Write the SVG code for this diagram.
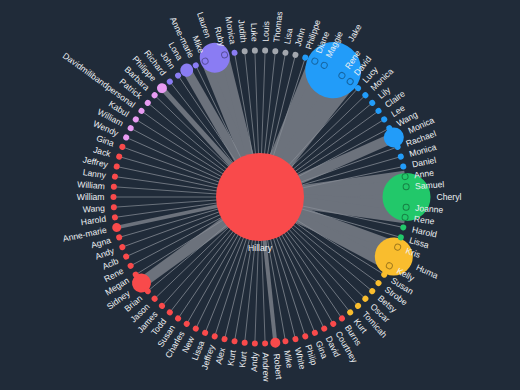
<svg xmlns="http://www.w3.org/2000/svg" width="520" height="390" viewBox="0 0 520 390">
<style>
.lk{stroke:#878d96;stroke-width:0.7}
.lt{stroke:#6c727c}
.gy{fill:#a3a7ae}.bl{fill:#229cf9}.gn{fill:#22c86a}.ye{fill:#f9bd2e}.rd{fill:#f94a4b}.pk{fill:#e89cf2}.pu{fill:#8a7cf3}
.ring{stroke:rgba(0,0,0,0.35);stroke-width:1}
text{font-family:"Liberation Sans",Arial,sans-serif;font-size:8.6px;fill:#eef0f3;dominant-baseline:central}
.r{text-anchor:start}.l{text-anchor:end}.c{text-anchor:middle}
</style>
<rect width="520" height="390" fill="#202b39"/>
<g id="links">
<line class="lt" x1="260" y1="197" x2="406.5" y2="197" stroke-width="26" transform="rotate(-60 260 197)"/>
<line class="lt" x1="260" y1="197" x2="406.5" y2="197" stroke-width="13" transform="rotate(-68 260 197)"/>
<line class="lt" x1="260" y1="197" x2="406.5" y2="197" stroke-width="13" transform="rotate(-64 260 197)"/>
<line class="lt" x1="260" y1="197" x2="406.5" y2="197" stroke-width="13" transform="rotate(-56 260 197)"/>
<line class="lt" x1="260" y1="197" x2="406.5" y2="197" stroke-width="13" transform="rotate(-52 260 197)"/>
<line class="lt" x1="260" y1="197" x2="406.5" y2="197" stroke-width="24" transform="rotate(0 260 197)"/>
<line class="lt" x1="260" y1="197" x2="406.5" y2="197" stroke-width="12" transform="rotate(-8 260 197)"/>
<line class="lt" x1="260" y1="197" x2="406.5" y2="197" stroke-width="12" transform="rotate(-4 260 197)"/>
<line class="lt" x1="260" y1="197" x2="406.5" y2="197" stroke-width="12" transform="rotate(4 260 197)"/>
<line class="lt" x1="260" y1="197" x2="406.5" y2="197" stroke-width="12" transform="rotate(8 260 197)"/>
<line class="lt" x1="260" y1="197" x2="406.5" y2="197" stroke-width="18" transform="rotate(24 260 197)"/>
<line class="lt" x1="260" y1="197" x2="406.5" y2="197" stroke-width="10" transform="rotate(20 260 197)"/>
<line class="lt" x1="260" y1="197" x2="406.5" y2="197" stroke-width="10" transform="rotate(28 260 197)"/>
<line class="lt" x1="260" y1="197" x2="406.5" y2="197" stroke-width="14" transform="rotate(252 260 197)"/>
<line class="lt" x1="260" y1="197" x2="406.5" y2="197" stroke-width="8" transform="rotate(248 260 197)"/>
<line class="lt" x1="260" y1="197" x2="406.5" y2="197" stroke-width="8" transform="rotate(256 260 197)"/>
<line class="lt" x1="260" y1="197" x2="406.5" y2="197" stroke-width="10" transform="rotate(-24 260 197)"/>
<line class="lt" x1="260" y1="197" x2="406.5" y2="197" stroke-width="11" transform="rotate(144 260 197)"/>
<line class="lt" x1="260" y1="197" x2="406.5" y2="197" stroke-width="9" transform="rotate(240 260 197)"/>
<line class="lt" x1="260" y1="197" x2="406.5" y2="197" stroke-width="5" transform="rotate(228 260 197)"/>
<line class="lt" x1="260" y1="197" x2="406.5" y2="197" stroke-width="4" transform="rotate(84 260 197)"/>
<line class="lt" x1="260" y1="197" x2="406.5" y2="197" stroke-width="3.5" transform="rotate(168 260 197)"/>
<line class="lk" x1="260" y1="197" x2="406.5" y2="197" transform="rotate(-88 260 197)"/>
<line class="lk" x1="260" y1="197" x2="406.5" y2="197" transform="rotate(-84 260 197)"/>
<line class="lk" x1="260" y1="197" x2="406.5" y2="197" transform="rotate(-80 260 197)"/>
<line class="lk" x1="260" y1="197" x2="406.5" y2="197" transform="rotate(-76 260 197)"/>
<line class="lk" x1="260" y1="197" x2="406.5" y2="197" transform="rotate(-72 260 197)"/>
<line class="lk" x1="260" y1="197" x2="406.5" y2="197" transform="rotate(-48 260 197)"/>
<line class="lk" x1="260" y1="197" x2="406.5" y2="197" transform="rotate(-44 260 197)"/>
<line class="lk" x1="260" y1="197" x2="406.5" y2="197" transform="rotate(-40 260 197)"/>
<line class="lk" x1="260" y1="197" x2="406.5" y2="197" transform="rotate(-36 260 197)"/>
<line class="lk" x1="260" y1="197" x2="406.5" y2="197" transform="rotate(-32 260 197)"/>
<line class="lk" x1="260" y1="197" x2="406.5" y2="197" transform="rotate(-28 260 197)"/>
<line class="lk" x1="260" y1="197" x2="406.5" y2="197" transform="rotate(-20 260 197)"/>
<line class="lk" x1="260" y1="197" x2="406.5" y2="197" transform="rotate(-16 260 197)"/>
<line class="lk" x1="260" y1="197" x2="406.5" y2="197" transform="rotate(-12 260 197)"/>
<line class="lk" x1="260" y1="197" x2="406.5" y2="197" transform="rotate(12 260 197)"/>
<line class="lk" x1="260" y1="197" x2="406.5" y2="197" transform="rotate(16 260 197)"/>
<line class="lk" x1="260" y1="197" x2="406.5" y2="197" transform="rotate(32 260 197)"/>
<line class="lk" x1="260" y1="197" x2="406.5" y2="197" transform="rotate(36 260 197)"/>
<line class="lk" x1="260" y1="197" x2="406.5" y2="197" transform="rotate(40 260 197)"/>
<line class="lk" x1="260" y1="197" x2="406.5" y2="197" transform="rotate(44 260 197)"/>
<line class="lk" x1="260" y1="197" x2="406.5" y2="197" transform="rotate(48 260 197)"/>
<line class="lk" x1="260" y1="197" x2="406.5" y2="197" transform="rotate(52 260 197)"/>
<line class="lk" x1="260" y1="197" x2="406.5" y2="197" transform="rotate(56 260 197)"/>
<line class="lk" x1="260" y1="197" x2="406.5" y2="197" transform="rotate(60 260 197)"/>
<line class="lk" x1="260" y1="197" x2="406.5" y2="197" transform="rotate(64 260 197)"/>
<line class="lk" x1="260" y1="197" x2="406.5" y2="197" transform="rotate(68 260 197)"/>
<line class="lk" x1="260" y1="197" x2="406.5" y2="197" transform="rotate(72 260 197)"/>
<line class="lk" x1="260" y1="197" x2="406.5" y2="197" transform="rotate(76 260 197)"/>
<line class="lk" x1="260" y1="197" x2="406.5" y2="197" transform="rotate(80 260 197)"/>
<line class="lk" x1="260" y1="197" x2="406.5" y2="197" transform="rotate(88 260 197)"/>
<line class="lk" x1="260" y1="197" x2="406.5" y2="197" transform="rotate(92 260 197)"/>
<line class="lk" x1="260" y1="197" x2="406.5" y2="197" transform="rotate(96 260 197)"/>
<line class="lk" x1="260" y1="197" x2="406.5" y2="197" transform="rotate(100 260 197)"/>
<line class="lk" x1="260" y1="197" x2="406.5" y2="197" transform="rotate(104 260 197)"/>
<line class="lk" x1="260" y1="197" x2="406.5" y2="197" transform="rotate(108 260 197)"/>
<line class="lk" x1="260" y1="197" x2="406.5" y2="197" transform="rotate(112 260 197)"/>
<line class="lk" x1="260" y1="197" x2="406.5" y2="197" transform="rotate(116 260 197)"/>
<line class="lk" x1="260" y1="197" x2="406.5" y2="197" transform="rotate(120 260 197)"/>
<line class="lk" x1="260" y1="197" x2="406.5" y2="197" transform="rotate(124 260 197)"/>
<line class="lk" x1="260" y1="197" x2="406.5" y2="197" transform="rotate(128 260 197)"/>
<line class="lk" x1="260" y1="197" x2="406.5" y2="197" transform="rotate(132 260 197)"/>
<line class="lk" x1="260" y1="197" x2="406.5" y2="197" transform="rotate(136 260 197)"/>
<line class="lk" x1="260" y1="197" x2="406.5" y2="197" transform="rotate(140 260 197)"/>
<line class="lk" x1="260" y1="197" x2="406.5" y2="197" transform="rotate(148 260 197)"/>
<line class="lk" x1="260" y1="197" x2="406.5" y2="197" transform="rotate(152 260 197)"/>
<line class="lk" x1="260" y1="197" x2="406.5" y2="197" transform="rotate(156 260 197)"/>
<line class="lk" x1="260" y1="197" x2="406.5" y2="197" transform="rotate(160 260 197)"/>
<line class="lk" x1="260" y1="197" x2="406.5" y2="197" transform="rotate(164 260 197)"/>
<line class="lk" x1="260" y1="197" x2="406.5" y2="197" transform="rotate(172 260 197)"/>
<line class="lk" x1="260" y1="197" x2="406.5" y2="197" transform="rotate(176 260 197)"/>
<line class="lk" x1="260" y1="197" x2="406.5" y2="197" transform="rotate(180 260 197)"/>
<line class="lk" x1="260" y1="197" x2="406.5" y2="197" transform="rotate(184 260 197)"/>
<line class="lk" x1="260" y1="197" x2="406.5" y2="197" transform="rotate(188 260 197)"/>
<line class="lk" x1="260" y1="197" x2="406.5" y2="197" transform="rotate(192 260 197)"/>
<line class="lk" x1="260" y1="197" x2="406.5" y2="197" transform="rotate(196 260 197)"/>
<line class="lk" x1="260" y1="197" x2="406.5" y2="197" transform="rotate(200 260 197)"/>
<line class="lk" x1="260" y1="197" x2="406.5" y2="197" transform="rotate(204 260 197)"/>
<line class="lk" x1="260" y1="197" x2="406.5" y2="197" transform="rotate(208 260 197)"/>
<line class="lk" x1="260" y1="197" x2="406.5" y2="197" transform="rotate(212 260 197)"/>
<line class="lk" x1="260" y1="197" x2="406.5" y2="197" transform="rotate(216 260 197)"/>
<line class="lk" x1="260" y1="197" x2="406.5" y2="197" transform="rotate(220 260 197)"/>
<line class="lk" x1="260" y1="197" x2="406.5" y2="197" transform="rotate(224 260 197)"/>
<line class="lk" x1="260" y1="197" x2="406.5" y2="197" transform="rotate(232 260 197)"/>
<line class="lk" x1="260" y1="197" x2="406.5" y2="197" transform="rotate(236 260 197)"/>
<line class="lk" x1="260" y1="197" x2="406.5" y2="197" transform="rotate(244 260 197)"/>
<line class="lk" x1="260" y1="197" x2="406.5" y2="197" transform="rotate(260 260 197)"/>
<line class="lk" x1="260" y1="197" x2="406.5" y2="197" transform="rotate(264 260 197)"/>
<line class="lk" x1="260" y1="197" x2="406.5" y2="197" transform="rotate(268 260 197)"/>
</g>
<g id="n00-hillary"><circle class="rd" cx="260" cy="197" r="44"/><text class="c" x="260" y="248">Hillary</text></g>
<g id="n08-jake" transform="rotate(-60 260 197)"><circle class="bl" cx="406.5" cy="197" r="28"/><text class="r" x="440.5" y="197">Jake</text></g>
<g id="n23-cheryl" transform="rotate(0 260 197)"><circle class="gn" cx="406.5" cy="197" r="24"/><text class="r" x="436.5" y="197">Cheryl</text></g>
<g id="n29-huma" transform="rotate(24 260 197)"><circle class="ye" cx="406.5" cy="197" r="19"/><text class="r" x="431.5" y="197">Huma</text></g>
<g id="n86-lauren" transform="rotate(252 260 197)"><circle class="pu" cx="406.5" cy="197" r="15"/><text class="l" x="427.5" y="197" transform="rotate(180 427.5 197)">Lauren</text></g>
<g id="n17-monica" transform="rotate(-24 260 197)"><circle class="bl" cx="406.5" cy="197" r="10"/><text class="r" x="422.5" y="197">Monica</text></g>
<g id="n59-sidney" transform="rotate(144 260 197)"><circle class="rd" cx="406.5" cy="197" r="9.5"/><text class="l" x="422" y="197" transform="rotate(180 422 197)">Sidney</text></g>
<g id="n83-lona" transform="rotate(240 260 197)"><circle class="pu" cx="406.5" cy="197" r="6.5"/><text class="l" x="419" y="197" transform="rotate(180 419 197)">Lona</text></g>
<g id="n01-louis" transform="rotate(-88 260 197)"><circle class="gy" cx="406.5" cy="197" r="3"/><text class="r" x="415.5" y="197">Louis</text></g>
<g id="n02-thomas" transform="rotate(-84 260 197)"><circle class="gy" cx="406.5" cy="197" r="3"/><text class="r" x="415.5" y="197">Thomas</text></g>
<g id="n03-lisa" transform="rotate(-80 260 197)"><circle class="gy" cx="406.5" cy="197" r="3"/><text class="r" x="415.5" y="197">Lisa</text></g>
<g id="n04-john" transform="rotate(-76 260 197)"><circle class="gy" cx="406.5" cy="197" r="3"/><text class="r" x="415.5" y="197">John</text></g>
<g id="n05-philippe" transform="rotate(-72 260 197)"><circle class="bl" cx="406.5" cy="197" r="3"/><text class="r" x="415.5" y="197">Philippe</text></g>
<g id="n06-diane" transform="rotate(-68 260 197)"><circle class="bl ring" cx="406.5" cy="197" r="3"/><text class="r" x="415.5" y="197">Diane</text></g>
<g id="n07-maggie" transform="rotate(-64 260 197)"><circle class="bl ring" cx="406.5" cy="197" r="3"/><text class="r" x="415.5" y="197">Maggie</text></g>
<g id="n09-rene" transform="rotate(-56 260 197)"><circle class="bl ring" cx="406.5" cy="197" r="3"/><text class="r" x="415.5" y="197">Rene</text></g>
<g id="n10-david" transform="rotate(-52 260 197)"><circle class="bl ring" cx="406.5" cy="197" r="3"/><text class="r" x="415.5" y="197">David</text></g>
<g id="n11-lucy" transform="rotate(-48 260 197)"><circle class="bl" cx="406.5" cy="197" r="3"/><text class="r" x="415.5" y="197">Lucy</text></g>
<g id="n12-monica" transform="rotate(-44 260 197)"><circle class="bl" cx="406.5" cy="197" r="3"/><text class="r" x="415.5" y="197">Monica</text></g>
<g id="n13-lily" transform="rotate(-40 260 197)"><circle class="bl" cx="406.5" cy="197" r="3"/><text class="r" x="415.5" y="197">Lily</text></g>
<g id="n14-claire" transform="rotate(-36 260 197)"><circle class="bl" cx="406.5" cy="197" r="3"/><text class="r" x="415.5" y="197">Claire</text></g>
<g id="n15-lee" transform="rotate(-32 260 197)"><circle class="bl" cx="406.5" cy="197" r="3"/><text class="r" x="415.5" y="197">Lee</text></g>
<g id="n16-wang" transform="rotate(-28 260 197)"><circle class="bl" cx="406.5" cy="197" r="3"/><text class="r" x="415.5" y="197">Wang</text></g>
<g id="n18-rachael" transform="rotate(-20 260 197)"><circle class="bl" cx="406.5" cy="197" r="3"/><text class="r" x="415.5" y="197">Rachael</text></g>
<g id="n19-monica" transform="rotate(-16 260 197)"><circle class="bl" cx="406.5" cy="197" r="3"/><text class="r" x="415.5" y="197">Monica</text></g>
<g id="n20-daniel" transform="rotate(-12 260 197)"><circle class="bl" cx="406.5" cy="197" r="3"/><text class="r" x="415.5" y="197">Daniel</text></g>
<g id="n21-anne" transform="rotate(-8 260 197)"><circle class="gn ring" cx="406.5" cy="197" r="3"/><text class="r" x="415.5" y="197">Anne</text></g>
<g id="n22-samuel" transform="rotate(-4 260 197)"><circle class="gn ring" cx="406.5" cy="197" r="3"/><text class="r" x="415.5" y="197">Samuel</text></g>
<g id="n24-joanne" transform="rotate(4 260 197)"><circle class="gn ring" cx="406.5" cy="197" r="3"/><text class="r" x="415.5" y="197">Joanne</text></g>
<g id="n25-rene" transform="rotate(8 260 197)"><circle class="gn ring" cx="406.5" cy="197" r="3"/><text class="r" x="415.5" y="197">Rene</text></g>
<g id="n26-harold" transform="rotate(12 260 197)"><circle class="gn" cx="406.5" cy="197" r="3"/><text class="r" x="415.5" y="197">Harold</text></g>
<g id="n27-lissa" transform="rotate(16 260 197)"><circle class="gn" cx="406.5" cy="197" r="3"/><text class="r" x="415.5" y="197">Lissa</text></g>
<g id="n28-kris" transform="rotate(20 260 197)"><circle class="ye ring" cx="406.5" cy="197" r="3"/><text class="r" x="415.5" y="197">Kris</text></g>
<g id="n30-kelly" transform="rotate(28 260 197)"><circle class="ye ring" cx="406.5" cy="197" r="3"/><text class="r" x="415.5" y="197">Kelly</text></g>
<g id="n31-susan" transform="rotate(32 260 197)"><circle class="ye" cx="406.5" cy="197" r="3"/><text class="r" x="415.5" y="197">Susan</text></g>
<g id="n32-strobe" transform="rotate(36 260 197)"><circle class="ye" cx="406.5" cy="197" r="3"/><text class="r" x="415.5" y="197">Strobe</text></g>
<g id="n33-betsy" transform="rotate(40 260 197)"><circle class="ye" cx="406.5" cy="197" r="3"/><text class="r" x="415.5" y="197">Betsy</text></g>
<g id="n34-oscar" transform="rotate(44 260 197)"><circle class="ye" cx="406.5" cy="197" r="3"/><text class="r" x="415.5" y="197">Oscar</text></g>
<g id="n35-tomicah" transform="rotate(48 260 197)"><circle class="ye" cx="406.5" cy="197" r="3"/><text class="r" x="415.5" y="197">Tomicah</text></g>
<g id="n36-kurt" transform="rotate(52 260 197)"><circle class="ye" cx="406.5" cy="197" r="3"/><text class="r" x="415.5" y="197">Kurt</text></g>
<g id="n37-burns" transform="rotate(56 260 197)"><circle class="rd" cx="406.5" cy="197" r="3"/><text class="r" x="415.5" y="197">Burns</text></g>
<g id="n38-courtney" transform="rotate(60 260 197)"><circle class="rd" cx="406.5" cy="197" r="3"/><text class="r" x="415.5" y="197">Courtney</text></g>
<g id="n39-david" transform="rotate(64 260 197)"><circle class="rd" cx="406.5" cy="197" r="3"/><text class="r" x="415.5" y="197">David</text></g>
<g id="n40-gina" transform="rotate(68 260 197)"><circle class="rd" cx="406.5" cy="197" r="3"/><text class="r" x="415.5" y="197">Gina</text></g>
<g id="n41-philip" transform="rotate(72 260 197)"><circle class="rd" cx="406.5" cy="197" r="3"/><text class="r" x="415.5" y="197">Philip</text></g>
<g id="n42-white" transform="rotate(76 260 197)"><circle class="rd" cx="406.5" cy="197" r="3"/><text class="r" x="415.5" y="197">White</text></g>
<g id="n43-mike" transform="rotate(80 260 197)"><circle class="rd" cx="406.5" cy="197" r="3"/><text class="r" x="415.5" y="197">Mike</text></g>
<g id="n44-robert" transform="rotate(84 260 197)"><circle class="rd" cx="406.5" cy="197" r="5"/><text class="r" x="417.5" y="197">Robert</text></g>
<g id="n45-andrew" transform="rotate(88 260 197)"><circle class="rd" cx="406.5" cy="197" r="3"/><text class="r" x="415.5" y="197">Andrew</text></g>
<g id="n46-andy" transform="rotate(92 260 197)"><circle class="rd" cx="406.5" cy="197" r="3"/><text class="l" x="415.5" y="197" transform="rotate(180 415.5 197)">Andy</text></g>
<g id="n47-kurt" transform="rotate(96 260 197)"><circle class="rd" cx="406.5" cy="197" r="3"/><text class="l" x="415.5" y="197" transform="rotate(180 415.5 197)">Kurt</text></g>
<g id="n48-kurt" transform="rotate(100 260 197)"><circle class="rd" cx="406.5" cy="197" r="3"/><text class="l" x="415.5" y="197" transform="rotate(180 415.5 197)">Kurt</text></g>
<g id="n49-alex" transform="rotate(104 260 197)"><circle class="rd" cx="406.5" cy="197" r="3"/><text class="l" x="415.5" y="197" transform="rotate(180 415.5 197)">Alex</text></g>
<g id="n50-jeffrey" transform="rotate(108 260 197)"><circle class="rd" cx="406.5" cy="197" r="3"/><text class="l" x="415.5" y="197" transform="rotate(180 415.5 197)">Jeffrey</text></g>
<g id="n51-lissa" transform="rotate(112 260 197)"><circle class="rd" cx="406.5" cy="197" r="3"/><text class="l" x="415.5" y="197" transform="rotate(180 415.5 197)">Lissa</text></g>
<g id="n52-new" transform="rotate(116 260 197)"><circle class="rd" cx="406.5" cy="197" r="3"/><text class="l" x="415.5" y="197" transform="rotate(180 415.5 197)">New</text></g>
<g id="n53-charles" transform="rotate(120 260 197)"><circle class="rd" cx="406.5" cy="197" r="3"/><text class="l" x="415.5" y="197" transform="rotate(180 415.5 197)">Charles</text></g>
<g id="n54-susan" transform="rotate(124 260 197)"><circle class="rd" cx="406.5" cy="197" r="3"/><text class="l" x="415.5" y="197" transform="rotate(180 415.5 197)">Susan</text></g>
<g id="n55-todd" transform="rotate(128 260 197)"><circle class="rd" cx="406.5" cy="197" r="3"/><text class="l" x="415.5" y="197" transform="rotate(180 415.5 197)">Todd</text></g>
<g id="n56-james" transform="rotate(132 260 197)"><circle class="rd" cx="406.5" cy="197" r="3"/><text class="l" x="415.5" y="197" transform="rotate(180 415.5 197)">James</text></g>
<g id="n57-jason" transform="rotate(136 260 197)"><circle class="rd" cx="406.5" cy="197" r="3"/><text class="l" x="415.5" y="197" transform="rotate(180 415.5 197)">Jason</text></g>
<g id="n58-brian" transform="rotate(140 260 197)"><circle class="rd" cx="406.5" cy="197" r="3"/><text class="l" x="415.5" y="197" transform="rotate(180 415.5 197)">Brian</text></g>
<g id="n60-megan" transform="rotate(148 260 197)"><circle class="rd" cx="406.5" cy="197" r="3"/><text class="l" x="415.5" y="197" transform="rotate(180 415.5 197)">Megan</text></g>
<g id="n61-rene" transform="rotate(152 260 197)"><circle class="rd" cx="406.5" cy="197" r="3"/><text class="l" x="415.5" y="197" transform="rotate(180 415.5 197)">Rene</text></g>
<g id="n62-aclb" transform="rotate(156 260 197)"><circle class="rd" cx="406.5" cy="197" r="3"/><text class="l" x="415.5" y="197" transform="rotate(180 415.5 197)">Aclb</text></g>
<g id="n63-andy" transform="rotate(160 260 197)"><circle class="rd" cx="406.5" cy="197" r="3"/><text class="l" x="415.5" y="197" transform="rotate(180 415.5 197)">Andy</text></g>
<g id="n64-agna" transform="rotate(164 260 197)"><circle class="rd" cx="406.5" cy="197" r="3"/><text class="l" x="415.5" y="197" transform="rotate(180 415.5 197)">Agna</text></g>
<g id="n65-anne-marie" transform="rotate(168 260 197)"><circle class="rd" cx="406.5" cy="197" r="4.5"/><text class="l" x="417" y="197" transform="rotate(180 417 197)">Anne-marie</text></g>
<g id="n66-harold" transform="rotate(172 260 197)"><circle class="rd" cx="406.5" cy="197" r="3"/><text class="l" x="415.5" y="197" transform="rotate(180 415.5 197)">Harold</text></g>
<g id="n67-wang" transform="rotate(176 260 197)"><circle class="rd" cx="406.5" cy="197" r="3"/><text class="l" x="415.5" y="197" transform="rotate(180 415.5 197)">Wang</text></g>
<g id="n68-william" transform="rotate(180 260 197)"><circle class="rd" cx="406.5" cy="197" r="3"/><text class="l" x="415.5" y="197" transform="rotate(180 415.5 197)">William</text></g>
<g id="n69-william" transform="rotate(184 260 197)"><circle class="rd" cx="406.5" cy="197" r="3"/><text class="l" x="415.5" y="197" transform="rotate(180 415.5 197)">William</text></g>
<g id="n70-lanny" transform="rotate(188 260 197)"><circle class="rd" cx="406.5" cy="197" r="3"/><text class="l" x="415.5" y="197" transform="rotate(180 415.5 197)">Lanny</text></g>
<g id="n71-jeffrey" transform="rotate(192 260 197)"><circle class="rd" cx="406.5" cy="197" r="3"/><text class="l" x="415.5" y="197" transform="rotate(180 415.5 197)">Jeffrey</text></g>
<g id="n72-jack" transform="rotate(196 260 197)"><circle class="rd" cx="406.5" cy="197" r="3"/><text class="l" x="415.5" y="197" transform="rotate(180 415.5 197)">Jack</text></g>
<g id="n73-gina" transform="rotate(200 260 197)"><circle class="rd" cx="406.5" cy="197" r="3"/><text class="l" x="415.5" y="197" transform="rotate(180 415.5 197)">Gina</text></g>
<g id="n74-wendy" transform="rotate(204 260 197)"><circle class="pk" cx="406.5" cy="197" r="3"/><text class="l" x="415.5" y="197" transform="rotate(180 415.5 197)">Wendy</text></g>
<g id="n75-william" transform="rotate(208 260 197)"><circle class="pk" cx="406.5" cy="197" r="3"/><text class="l" x="415.5" y="197" transform="rotate(180 415.5 197)">William</text></g>
<g id="n76-kabul" transform="rotate(212 260 197)"><circle class="pk" cx="406.5" cy="197" r="3"/><text class="l" x="415.5" y="197" transform="rotate(180 415.5 197)">Kabul</text></g>
<g id="n77-davidmilibandpersonal" transform="rotate(216 260 197)"><circle class="pk" cx="406.5" cy="197" r="3"/><text class="l" x="415.5" y="197" transform="rotate(180 415.5 197)">Davidmilibandpersonal</text></g>
<g id="n78-patrick" transform="rotate(220 260 197)"><circle class="pk" cx="406.5" cy="197" r="3"/><text class="l" x="415.5" y="197" transform="rotate(180 415.5 197)">Patrick</text></g>
<g id="n79-barbara" transform="rotate(224 260 197)"><circle class="pk" cx="406.5" cy="197" r="3"/><text class="l" x="415.5" y="197" transform="rotate(180 415.5 197)">Barbara</text></g>
<g id="n80-philippe" transform="rotate(228 260 197)"><circle class="pk" cx="406.5" cy="197" r="5"/><text class="l" x="417.5" y="197" transform="rotate(180 417.5 197)">Philippe</text></g>
<g id="n81-richard" transform="rotate(232 260 197)"><circle class="pu" cx="406.5" cy="197" r="3"/><text class="l" x="415.5" y="197" transform="rotate(180 415.5 197)">Richard</text></g>
<g id="n82-john" transform="rotate(236 260 197)"><circle class="pu" cx="406.5" cy="197" r="3"/><text class="l" x="415.5" y="197" transform="rotate(180 415.5 197)">John</text></g>
<g id="n84-anne-marie" transform="rotate(244 260 197)"><circle class="pu" cx="406.5" cy="197" r="3"/><text class="l" x="415.5" y="197" transform="rotate(180 415.5 197)">Anne-marie</text></g>
<g id="n85-mike" transform="rotate(248 260 197)"><circle class="pu ring" cx="406.5" cy="197" r="3"/><text class="l" x="415.5" y="197" transform="rotate(180 415.5 197)">Mike</text></g>
<g id="n87-ruby" transform="rotate(256 260 197)"><circle class="pu ring" cx="406.5" cy="197" r="3"/><text class="l" x="415.5" y="197" transform="rotate(180 415.5 197)">Ruby</text></g>
<g id="n88-monica" transform="rotate(260 260 197)"><circle class="pu" cx="406.5" cy="197" r="3"/><text class="l" x="415.5" y="197" transform="rotate(180 415.5 197)">Monica</text></g>
<g id="n89-judith" transform="rotate(264 260 197)"><circle class="gy" cx="406.5" cy="197" r="3"/><text class="l" x="415.5" y="197" transform="rotate(180 415.5 197)">Judith</text></g>
<g id="n90-luke" transform="rotate(268 260 197)"><circle class="gy" cx="406.5" cy="197" r="3"/><text class="l" x="415.5" y="197" transform="rotate(180 415.5 197)">Luke</text></g>
</svg>
